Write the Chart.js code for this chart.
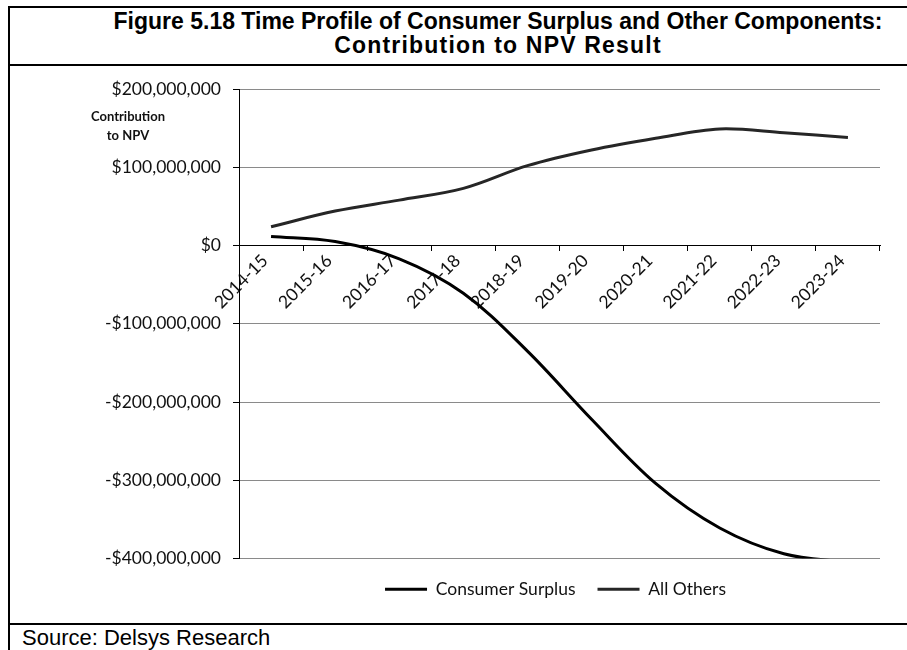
<!DOCTYPE html>
<html>
<head>
<meta charset="utf-8">
<script src="https://cdn.jsdelivr.net/npm/chart.js@4.4.1/dist/chart.umd.min.js"></script>
<style>
  html, body { margin: 0; padding: 0; background: #fff; }
  body { width: 907px; height: 650px; position: relative; overflow: hidden; }
  .rule { position: absolute; background: #000; }
  #title {
    position: absolute; left: 98px; width: 800px; top: 9px;
    text-align: center; font: bold 23px "Liberation Sans", Arial, sans-serif;
    line-height: 24px; color: #000;
  }
  #title .second { letter-spacing: 1.2px; }
  #source {
    position: absolute; left: 22px; top: 625px;
    font: 22px "Liberation Sans", Arial, sans-serif; color: #000;
  }
  #wrap { position: absolute; left: 0; top: 0; width: 907px; height: 650px; }
</style>
</head>
<body>
<div class="rule" style="left:8px;top:6px;width:899px;height:2px"></div>
<div class="rule" style="left:8px;top:6px;width:2px;height:644px"></div>
<div class="rule" style="left:8px;top:64px;width:899px;height:2px"></div>
<div class="rule" style="left:8px;top:623px;width:899px;height:2px"></div>
<div id="title">Figure 5.18 Time Profile of Consumer Surplus and Other Components:<br><span class="second">Contribution to NPV Result</span></div>
<div id="source">Source: Delsys Research</div>
<div id="wrap"><canvas id="chart"></canvas></div>
<script>
const years = ['2014-15', '2015-16', '2016-17', '2017-18', '2018-19',
  '2019-20', '2020-21', '2021-22', '2022-23', '2023-24']
const consumerSurplus = [11500000, 5000000, -17000000, -61000000, -135000000,
  -222000000, -304000000, -361000000, -394000000, -405000000]
const allOthers = [24000000, 44000000, 58000000, 73000000, 102000000,
  122000000, 137000000, 149000000, 144000000, 138000000]
const yAxisTitle = ['Contribution', 'to NPV']

const tickFont = { family: 'Lato', size: 17.5 }

const money = (v) => (v < 0 ? '-$' : '$') + Math.abs(v).toLocaleString('en-US')

// axis title sits horizontally beside the top of the value axis
const axisTitlePlugin = {
  id: 'axisTitle',
  afterDraw(chart) {
    const { ctx, chartArea } = chart
    ctx.save()
    ctx.font = 'bold 13px Lato'
    ctx.fillStyle = '#111'
    ctx.textAlign = 'center'
    ctx.textBaseline = 'middle'
    yAxisTitle.forEach((line, i) => {
      ctx.fillText(line, chartArea.left - 111, chartArea.top + 28 + i * 19)
    })
    ctx.restore()
  },
}

// keep the legend centred under the plot area rather than the whole canvas
const legendCenterPlugin = {
  id: 'legendCenter',
  afterLayout(chart) {
    const legend = chart.legend
    if (!legend) return
    const pad = legend.options.labels.padding
    legend.left = chart.chartArea.left - pad + 14
    legend.right = chart.chartArea.right
  },
}

const ctx = document.getElementById('chart').getContext('2d')

new Chart(ctx, {
  type: 'line',
  data: {
    labels: years,
    datasets: [
      {
        label: 'Consumer Surplus',
        data: consumerSurplus,
        borderColor: '#000',
        backgroundColor: '#000',
        borderWidth: 3,
        pointRadius: 0,
        tension: 0.35,
        fill: false,
      },
      {
        label: 'All Others',
        data: allOthers,
        borderColor: '#262626',
        backgroundColor: '#262626',
        borderWidth: 3,
        pointRadius: 0,
        tension: 0.35,
        fill: false,
      },
    ],
  },
  options: {
    responsive: true,
    maintainAspectRatio: false,
    animation: false,
    layout: { padding: { left: 0, right: 27, top: 89, bottom: 42 } },
    plugins: {
      title: { display: false },
      tooltip: { enabled: false },
      legend: {
        position: 'bottom',
        labels: {
          usePointStyle: true,
          pointStyle: 'line',
          pointStyleWidth: 42,
          padding: 22,
          color: '#111',
          font: { family: 'Lato', size: 17.5 },
        },
      },
    },
    scales: {
      x: {
        type: 'category',
        position: { y: 0 },
        offset: true,
        grid: {
          offset: true,
          drawOnChartArea: false,
          drawTicks: true,
          tickLength: 5,
          tickColor: '#000',
        },
        border: { display: true, color: '#000', width: 1 },
        ticks: {
          minRotation: 45,
          maxRotation: 45,
          padding: 0,
          labelOffset: -6,
          color: '#111',
          font: tickFont,
        },
      },
      y: {
        min: -400000000,
        max: 200000000,
        afterFit: (scale) => { scale.width = 239 },
        grid: {
          color: '#8a8a8a',
          tickColor: '#000',
          tickLength: 6,
        },
        border: { display: true, color: '#000', width: 1 },
        ticks: {
          stepSize: 100000000,
          padding: 12,
          color: '#111',
          font: tickFont,
          callback: (v) => money(v),
        },
      },
    },
  },
  plugins: [axisTitlePlugin, legendCenterPlugin],
})
</script>
</body>
</html>
